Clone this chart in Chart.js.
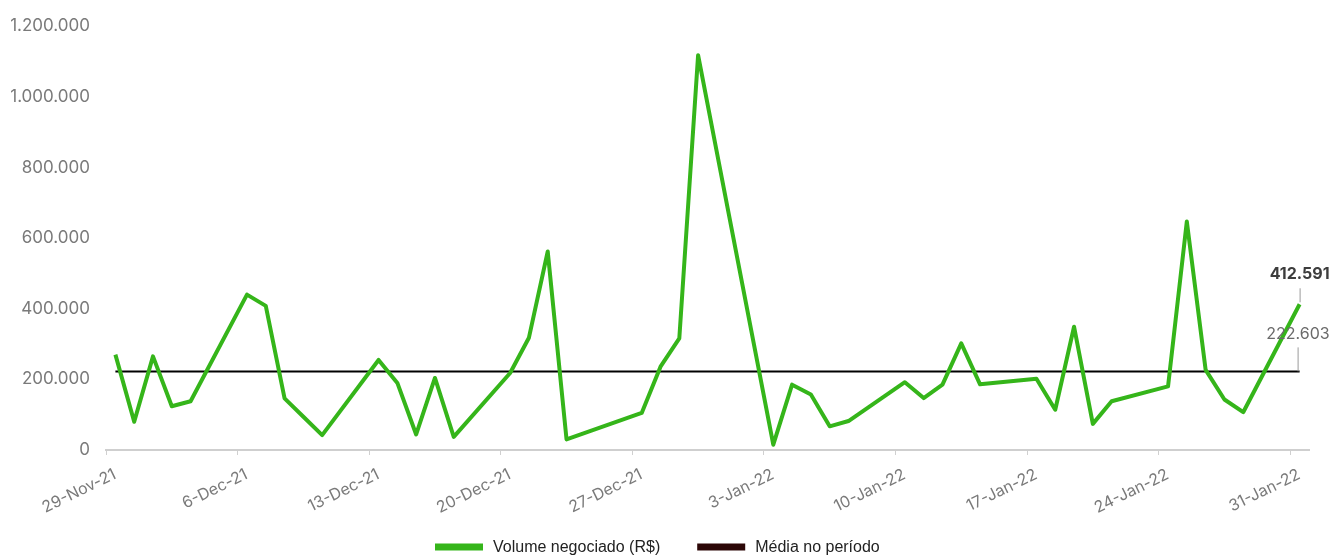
<!DOCTYPE html>
<html>
<head>
<meta charset="utf-8">
<script src="https://cdn.jsdelivr.net/npm/chart.js@4.4.1/dist/chart.umd.min.js"></script>
<style>
  html, body { margin: 0; padding: 0; background: #ffffff; }
  #wrap { position: relative; width: 1333px; height: 555px; }
</style>
</head>
<body>
<div id="wrap"><canvas id="c" width="1333" height="555"></canvas></div>
<script>
// ---- data ----
const startDate = '2021-11-29';
const endDate = '2022-02-01';
const tradeDates = [
  '2021-11-29','2021-11-30','2021-12-01','2021-12-02','2021-12-03',
  '2021-12-06','2021-12-07','2021-12-08','2021-12-09','2021-12-10',
  '2021-12-13','2021-12-14','2021-12-15','2021-12-16','2021-12-17',
  '2021-12-20','2021-12-21','2021-12-22','2021-12-23',
  '2021-12-27','2021-12-28','2021-12-29','2021-12-30',
  '2022-01-03','2022-01-04','2022-01-05','2022-01-06','2022-01-07',
  '2022-01-10','2022-01-11','2022-01-12','2022-01-13','2022-01-14',
  '2022-01-17','2022-01-18','2022-01-19','2022-01-20','2022-01-21',
  '2022-01-24','2022-01-25','2022-01-26','2022-01-27','2022-01-28',
  '2022-01-31'
];
const volume = [
  270000, 80000, 265000, 124000, 138000,
  440000, 408000, 146000, 94000, 42000,
  255000, 190000, 44000, 204000, 37000,
  218000, 318000, 562000, 30000,
  105000, 236000, 316000, 1118000,
  15000, 185000, 157000, 67000, 82000,
  192000, 147000, 185000, 302000, 186000,
  202000, 114000, 349000, 74000, 138000,
  180000, 647000, 227000, 143000, 107000,
  412591
];
const mediaValue = 222603;
const tickLabels = ['29-Nov-21','6-Dec-21','13-Dec-21','20-Dec-21','27-Dec-21',
                    '3-Jan-22','10-Jan-22','17-Jan-22','24-Jan-22','31-Jan-22'];
const yTicks = [0, 200000, 400000, 600000, 800000, 1000000, 1200000];
const seriesNames = ['Volume negociado (R$)', 'Média no período'];

// ---- build ----
const DAY = 86400000;
const t0 = Date.parse(startDate + 'T00:00:00Z');
const dayOf = d => (Date.parse(d + 'T00:00:00Z') - t0) / DAY;
const xMax = dayOf(endDate);
const volPoints = tradeDates.map((d, i) => ({ x: dayOf(d) + 0.5, y: volume[i] }));
const firstX = volPoints[0].x, lastX = volPoints[volPoints.length - 1].x;
const mediaPoints = [{ x: firstX, y: mediaValue }, { x: lastX, y: mediaValue }];

const fmt = v => Math.round(v).toString().replace(/\B(?=(\d{3})+(?!\d))/g, '.');

const GREEN = '#35b51a';
const MEAN = '#000000';
const MEAN_LEGEND = '#2c0707';

const labelPlugin = {
  id: 'endLabels',
  afterDatasetsDraw(chart) {
    const ctx = chart.ctx;
    const m0 = chart.getDatasetMeta(0).data;
    const m1 = chart.getDatasetMeta(1).data;
    const p = m0[m0.length - 1];
    const q = m1[m1.length - 1];
    ctx.save();
    ctx.strokeStyle = '#9a9a9a';
    ctx.lineWidth = 1;
    ctx.beginPath();
    ctx.moveTo(p.x + 0.5, p.y - 16);
    ctx.lineTo(p.x + 0.5, p.y - 2);
    ctx.stroke();
    ctx.font = 'bold 16px Inter';
    ctx.fillStyle = '#3d3d3d';
    ctx.textAlign = 'right';
    ctx.textBaseline = 'middle';
    ctx.fillText(fmt(volume[volume.length - 1]), p.x + 30, p.y - 30);
    ctx.beginPath();
    ctx.moveTo(q.x - 1.5, q.y - 24);
    ctx.lineTo(q.x - 1.5, q.y);
    ctx.stroke();
    ctx.font = '16px Inter';
    ctx.fillStyle = '#6a6a6a';
    ctx.fillText(fmt(mediaValue), q.x + 30, q.y - 37);
    ctx.restore();
  }
};

const legendPlugin = {
  id: 'customLegend',
  afterDraw(chart) {
    const ctx = chart.ctx;
    const colors = [GREEN, MEAN_LEGEND];
    const y = 547;
    ctx.save();
    ctx.font = '16px "Liberation Sans"';
    ctx.textBaseline = 'middle';
    ctx.textAlign = 'left';
    let x = 435;
    seriesNames.forEach((name, i) => {
      ctx.fillStyle = colors[i];
      ctx.fillRect(x, y - 3.5, 48, 7);
      x += 48 + 10;
      ctx.fillStyle = '#222222';
      ctx.fillText(name, x, y + 1);
      x += ctx.measureText(name).width + 37;
    });
    ctx.restore();
  }
};

new Chart(document.getElementById('c'), {
  type: 'line',
  data: {
    datasets: [
      {
        label: seriesNames[0],
        data: volPoints,
        borderColor: GREEN,
        backgroundColor: GREEN,
        borderWidth: 4,
        pointRadius: 0,
        tension: 0,
        borderJoinStyle: 'round',
        order: 1
      },
      {
        label: seriesNames[1],
        data: mediaPoints,
        borderColor: MEAN,
        backgroundColor: MEAN_LEGEND,
        borderWidth: 2,
        pointRadius: 0,
        order: 2
      }
    ]
  },
  options: {
    responsive: false,
    animation: false,
    layout: { padding: { top: 16, right: 24, left: 8, bottom: 0 } },
    plugins: {
      tooltip: { enabled: false },
      legend: { display: false }
    },
    scales: {
      x: {
        type: 'linear',
        min: 0,
        max: xMax,
        afterBuildTicks(scale) {
          scale.ticks = tickLabels.map((_, i) => ({ value: i * 7 }));
        },
        ticks: {
          autoSkip: false,
          minRotation: 26,
          maxRotation: 26,
          labelOffset: 9,
          color: '#7a7a7a',
          font: { family: 'Inter', size: 16 },
          padding: 10,
          callback: (v, i) => tickLabels[i]
        },
        grid: {
          display: true,
          drawOnChartArea: false,
          drawTicks: true,
          tickLength: 5,
          color: '#d0d0d0'
        },
        border: { display: true, color: '#cfcfcf', width: 2 },
        afterFit(scale) { scale.height = 105; }
      },
      y: {
        min: 0,
        max: 1200000,
        afterBuildTicks(scale) {
          scale.ticks = yTicks.map(v => ({ value: v }));
        },
        ticks: {
          color: '#7a7a7a',
          font: { family: 'Inter', size: 17 },
          padding: 16,
          callback: v => fmt(v)
        },
        grid: { display: false, drawTicks: false },
        border: { display: false },
        afterFit(scale) { scale.width = 98; }
      }
    }
  },
  plugins: [labelPlugin, legendPlugin]
});
</script>
</body>
</html>
